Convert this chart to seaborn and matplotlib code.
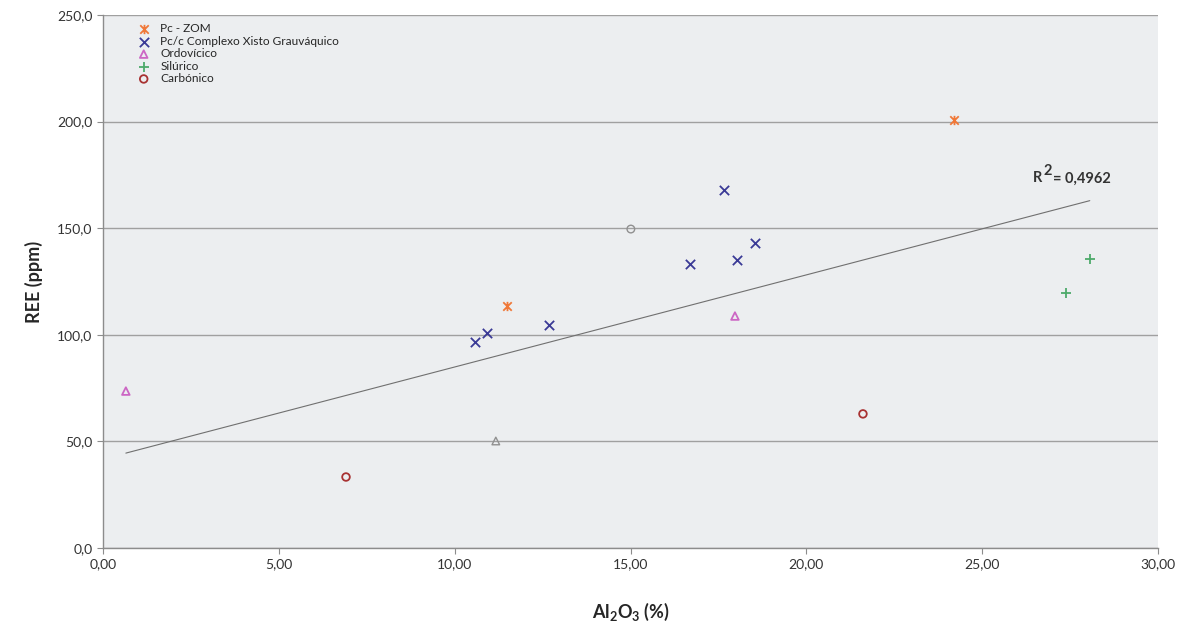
"""Scatter of REE against Al2O3 by stratigraphic unit, with linear trend line."""

import matplotlib
matplotlib.use("Agg")
import matplotlib.pyplot as plt
from matplotlib.path import Path
from matplotlib.ticker import FuncFormatter
import numpy as np
import pandas as pd
import seaborn as sns

# --- data -------------------------------------------------------------------
zom_al2o3 = [24.20, 11.49]
zom_ree = [200.8, 113.5]

cxg_al2o3 = [10.58, 10.92, 12.68, 16.69, 17.66, 18.03, 18.54]
cxg_ree = [96.6, 100.8, 104.6, 133.2, 167.9, 135.1, 143.1]

ordo_al2o3 = [0.65, 17.97]
ordo_ree = [73.6, 108.8]

silu_al2o3 = [27.38, 28.06]
silu_ree = [119.6, 135.6]

carb_al2o3 = [6.91, 21.61]
carb_ree = [33.3, 62.9]

# grey samples not listed in the legend
grey_tri_al2o3 = [11.17]
grey_tri_ree = [50.2]
grey_circ_al2o3 = [15.01]
grey_circ_ree = [149.6]

trend_slope = 4.32
trend_intercept = 41.7
r2_text = "0,4962"

# Excel style star: an x with a vertical stroke
STAR = Path(
    [(-1, -1), (1, 1), (-1, 1), (1, -1), (0, -1.1), (0, 1.1)],
    [Path.MOVETO, Path.LINETO, Path.MOVETO, Path.LINETO, Path.MOVETO, Path.LINETO],
)

GROUPS = [
    ("Pc - ZOM", zom_al2o3, zom_ree, STAR, "#F07838", False),
    ("Pc/c Complexo Xisto Grauváquico", cxg_al2o3, cxg_ree, "x", "#3A3A96", False),
    ("Ordovícico", ordo_al2o3, ordo_ree, "^", "#CC66C4", True),
    ("Silúrico", silu_al2o3, silu_ree, "+", "#4DAA6A", False),
    ("Carbónico", carb_al2o3, carb_ree, "o", "#A83232", True),
]

sns.set_theme(style="white")
plt.rcParams["font.family"] = ["Lato", "DejaVu Sans"]
plt.rcParams["mathtext.fontset"] = "custom"
plt.rcParams["mathtext.rm"] = "Lato"
plt.rcParams["mathtext.bf"] = "Lato:bold"

fig = plt.figure(figsize=(11.89, 6.29), dpi=100)
ax = fig.add_axes([103 / 1189, 1 - 548 / 629, 1055 / 1189, 533 / 629])
ax.set_facecolor("#ECEEF0")

for label, xs, ys, marker, color, hollow in GROUPS:
    df = pd.DataFrame({"al2o3": xs, "ree": ys})
    if hollow:
        sns.scatterplot(data=df, x="al2o3", y="ree", marker=marker, s=30,
                        facecolor="none", edgecolor=color, linewidth=1.3,
                        label=label, ax=ax, zorder=4)
    else:
        sns.scatterplot(data=df, x="al2o3", y="ree", marker=marker, s=45,
                        color=color, edgecolor=color, linewidth=1.3,
                        label=label, ax=ax, zorder=4)

for xs, ys, marker in [(grey_tri_al2o3, grey_tri_ree, "^"), (grey_circ_al2o3, grey_circ_ree, "o")]:
    df = pd.DataFrame({"al2o3": xs, "ree": ys})
    sns.scatterplot(data=df, x="al2o3", y="ree", marker=marker, s=30,
                    facecolor="none", edgecolor="#909090", linewidth=1.0,
                    ax=ax, zorder=4)

all_x = np.array(zom_al2o3 + cxg_al2o3 + ordo_al2o3 + silu_al2o3 + carb_al2o3)
line_x = np.array([all_x.min(), all_x.max()])
ax.plot(line_x, trend_intercept + trend_slope * line_x, color="#707070", lw=0.8, zorder=3)

# R² label with a full-size raised "2"
r2_x, r2_y = 26.45, 171.5
txt_kw = dict(fontsize=10.5, fontweight="bold", color="#333333", va="baseline")
ax.annotate("R", (r2_x, r2_y), **txt_kw)
ax.annotate("2", (r2_x, r2_y), xytext=(7.5, 5), textcoords="offset points", **txt_kw)
ax.annotate("= " + r2_text, (r2_x, r2_y), xytext=(14, 0), textcoords="offset points", **txt_kw)

ax.set_xlim(0, 30)
ax.set_ylim(0, 250)
ax.set_xticks(np.arange(0, 31, 5))
ax.set_yticks(np.arange(0, 251, 50))
ax.xaxis.set_major_formatter(FuncFormatter(lambda v, _: f"{v:.2f}".replace(".", ",")))
ax.yaxis.set_major_formatter(FuncFormatter(lambda v, _: f"{v:.1f}".replace(".", ",")))
ax.yaxis.grid(True, color="#A0A0A0", lw=1.0)
ax.set_axisbelow(True)
ax.tick_params(axis="both", labelsize=10, colors="#333333", length=4, width=0.8,
               direction="out", bottom=True, left=True, color="#8C8C8C")
for side in ["top", "right"]:
    ax.spines[side].set_visible(False)
for side in ["left", "bottom"]:
    ax.spines[side].set_color("#8C8C8C")
    ax.spines[side].set_linewidth(1.0)

ax.set_xlabel(r"$\mathbf{Al_2O_3}$ (%)", fontsize=13, fontweight="bold", labelpad=22)
ax.set_ylabel("REE (ppm)", fontsize=13, fontweight="bold", labelpad=10)

ax.legend(loc="upper left", bbox_to_anchor=(0.025, 1.0), frameon=False, fontsize=8.6,
          handlelength=1.0, handletextpad=0.9, labelspacing=0.12, borderaxespad=0.3)

fig.savefig("out.png", dpi=100)
plt.close(fig)
